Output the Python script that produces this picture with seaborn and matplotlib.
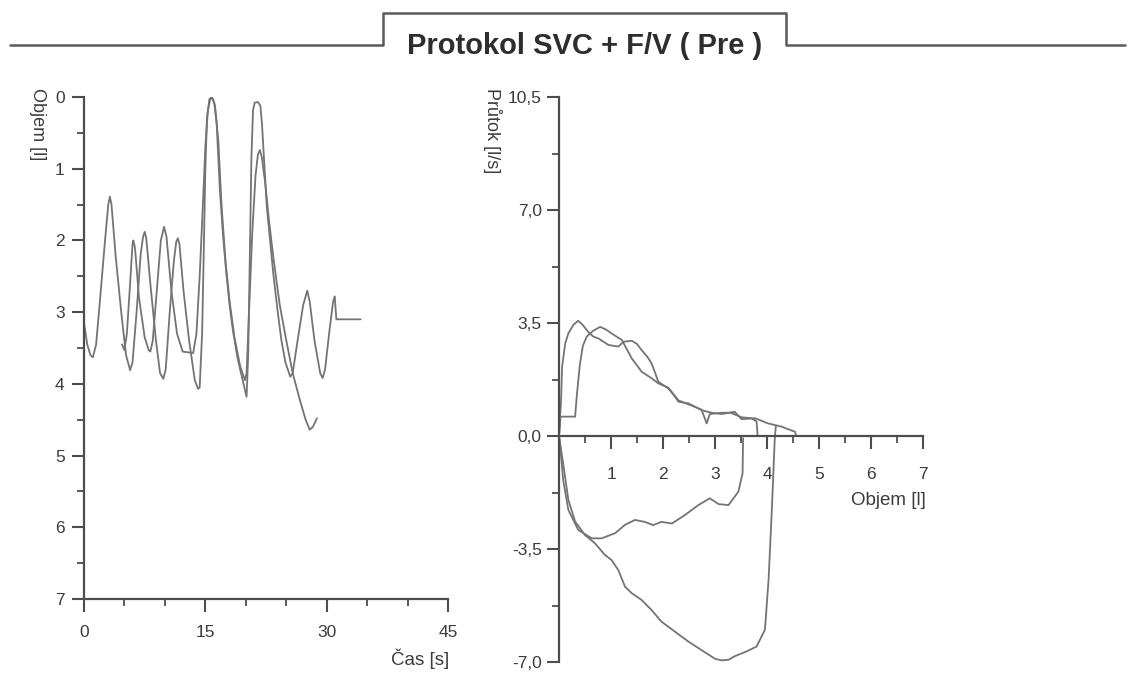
import matplotlib
matplotlib.use('Agg')
import matplotlib.pyplot as plt
import seaborn as sns
from matplotlib import font_manager
from matplotlib.lines import Line2D
from matplotlib.ticker import MultipleLocator

# --- volume-time (SVC), two trials ---
t_a = [0.0, 0.4, 0.8, 1.1, 1.5, 2.0, 2.6, 3.0, 3.2, 3.4, 3.9, 4.6, 5.2, 5.7, 6.0, 6.5, 7.0, 7.3,
       7.5, 7.7, 8.2, 8.9, 9.4, 9.8, 10.1, 10.6, 11.1, 11.4, 11.6, 11.8, 12.3, 13.0, 13.7, 14.1,
       14.3, 14.6, 14.8, 15.0, 15.2, 15.5, 15.8, 16.1, 16.4, 16.8, 17.2, 17.6, 18.0, 18.4, 19.0,
       19.7, 20.1, 20.3, 20.5, 20.7, 20.9, 21.1, 21.5, 21.8, 22.0, 22.3, 22.6, 23.0, 23.4, 23.9,
       24.4, 24.9, 25.5, 25.8, 26.4, 27.1, 27.6, 27.9, 28.5, 29.2, 29.5, 29.8, 30.3, 30.8, 31.0,
       31.1, 31.2, 34.2]
v_a = [3.15, 3.45, 3.60, 3.63, 3.45, 2.8, 2.0, 1.5, 1.39, 1.5, 2.2, 3.0, 3.6, 3.81, 3.7, 3.0, 2.2, 1.95,
       1.88, 1.97, 2.6, 3.4, 3.85, 3.93, 3.8, 3.0, 2.3, 2.02, 1.97, 2.05, 2.7, 3.4, 3.95, 4.07,
       4.05, 3.3, 2.2, 1.0, 0.3, 0.03, 0.0, 0.08, 0.37, 1.3, 1.95, 2.46, 2.9, 3.25, 3.65,
       3.99, 4.18, 3.6, 2.23, 0.83, 0.18, 0.08, 0.07, 0.12, 0.37, 0.95, 1.53, 2.0, 2.46, 2.95,
       3.39, 3.7, 3.9, 3.85, 3.4, 2.9, 2.7, 2.85, 3.4, 3.85, 3.92, 3.8, 3.3, 2.85, 2.78,
       2.95, 3.1, 3.1]

t_b = [4.7, 5.0, 5.3, 5.7, 6.0, 6.1, 6.3, 6.8, 7.5, 8.0, 8.2, 8.5, 9.0, 9.5, 9.9, 10.2, 10.8, 11.5,
       12.2, 13.5, 13.9, 14.3, 14.7, 15.0, 15.3, 15.6, 15.9, 16.2, 16.6, 17.0, 17.5, 18.0, 18.6,
       19.3, 19.9, 20.1, 20.4, 20.8, 21.2, 21.5, 21.75, 22.0, 22.4, 22.9, 23.4, 24.2, 25.0, 25.8,
       26.7, 27.4, 27.9, 28.3, 28.8]
v_b = [3.45, 3.53, 3.3, 2.6, 2.05, 2.0, 2.1, 2.8, 3.35, 3.53, 3.55, 3.4, 2.7, 2.0, 1.81, 1.95, 2.7, 3.3,
       3.55, 3.57, 3.3, 2.5, 1.5, 0.7, 0.2, 0.03, 0.02, 0.12, 0.6, 1.5, 2.3, 2.85, 3.35,
       3.75, 3.95, 3.85, 3.0, 1.9, 1.1, 0.8, 0.74, 0.85, 1.2, 1.75, 2.23, 2.9, 3.39, 3.85,
       4.23, 4.5, 4.64, 4.6, 4.48]

# --- flow-volume (F/V) ---
ex1_vol = [0.0, 0.04, 0.06, 0.12, 0.18, 0.28, 0.37, 0.45, 0.56, 0.66, 0.76, 0.95, 1.14, 1.24, 1.40,
           1.50, 1.59, 1.70, 1.78, 1.85, 1.91, 2.00, 2.10, 2.20, 2.30, 2.49, 2.60, 2.74, 2.94, 3.13,
           3.38, 3.51, 3.77, 4.02, 4.28, 4.54, 4.56]
ex1_flow = [0.0, 1.11, 2.15, 2.87, 3.18, 3.45, 3.57, 3.45, 3.23, 3.08, 3.02, 2.82, 2.77, 2.92, 2.95,
            2.85, 2.66, 2.45, 2.25, 1.95, 1.68, 1.58, 1.48, 1.28, 1.06, 1.01, 0.92, 0.80, 0.72, 0.68,
            0.75, 0.52, 0.55, 0.39, 0.29, 0.13, 0.0]

ex2_vol = [0.0, 0.03, 0.31, 0.34, 0.40, 0.46, 0.53, 0.65, 0.79, 0.90, 1.01, 1.21, 1.30, 1.40, 1.59,
           1.78, 1.91, 2.10, 2.30, 2.49, 2.74, 2.84, 2.90, 3.13, 3.30, 3.51, 3.70, 3.80, 3.82]
ex2_flow = [0.0, 0.6, 0.6, 1.2, 2.2, 2.8, 3.07, 3.25, 3.38, 3.30, 3.18, 2.97, 2.70, 2.40, 1.99,
            1.79, 1.63, 1.50, 1.10, 0.98, 0.82, 0.39, 0.68, 0.72, 0.72, 0.58, 0.55, 0.45, 0.0]

in1_vol = [0.0, 0.03, 0.08, 0.18, 0.37, 0.63, 0.82, 1.08, 1.27, 1.46, 1.65, 1.81, 1.97, 2.17, 2.42,
           2.68, 2.90, 3.07, 3.26, 3.45, 3.53, 3.54]
in1_flow = [0.0, -0.43, -1.36, -2.29, -2.91, -3.17, -3.17, -3.01, -2.75, -2.60, -2.66, -2.76, -2.66,
            -2.71, -2.45, -2.14, -1.93, -2.11, -2.14, -1.72, -1.16, -0.07]

in2_vol = [0.0, 0.08, 0.18, 0.31, 0.50, 0.69, 0.88, 1.01, 1.14, 1.27, 1.40, 1.59, 1.78, 1.97, 2.23,
           2.49, 2.74, 3.00, 3.13, 3.26, 3.38, 3.61, 3.80, 3.96, 4.03, 4.09, 4.15, 4.17]
in2_flow = [0.0, -0.85, -1.98, -2.65, -3.07, -3.32, -3.68, -3.84, -4.15, -4.67, -4.87, -5.08, -5.39,
            -5.75, -6.06, -6.37, -6.63, -6.90, -6.95, -6.93, -6.82, -6.67, -6.52, -6.00, -4.46,
            -2.40, -0.07, 0.3]

vt_yticks = [0, 1, 2, 3, 4, 5, 6, 7]
vt_xticks = [0, 15, 30, 45]
fv_yticks = [-7, -3.5, 0, 3.5, 7, 10.5]
fv_ylabels = ['-7,0', '-3,5', '0,0', '3,5', '7,0', '10,5']
fv_xticks = [1, 2, 3, 4, 5, 6, 7]

sns.set_style('white')
names = {f.name for f in font_manager.fontManager.ttflist}
narrow = 'Liberation Sans Narrow' if 'Liberation Sans Narrow' in names else 'Liberation Sans'
plt.rcParams['font.family'] = [narrow, 'DejaVu Sans']

line_c = '#747474'
axis_c = '#4d4d4d'
text_c = '#3c3c3c'

fig = plt.figure(figsize=(11.28, 6.75), dpi=100)

# title frame
fig.add_artist(Line2D([10 / 1128, 383 / 1128, 383 / 1128, 786 / 1128, 786 / 1128, 1125 / 1128],
                      [1 - 45 / 675, 1 - 45 / 675, 1 - 13 / 675, 1 - 13 / 675, 1 - 45 / 675, 1 - 45 / 675],
                      color='#5a5a5a', lw=1.8))
fig.text(585 / 1128, 1 - 46 / 675, 'Protokol SVC + F/V ( Pre )', ha='center', va='center',
         fontsize=21, fontweight='bold', color='#2e2e2e')


def style(ax):
    for s in ['top', 'right']:
        ax.spines[s].set_visible(False)
    for s in ['left', 'bottom']:
        ax.spines[s].set_color(axis_c)
        ax.spines[s].set_linewidth(1.6)
    ax.tick_params(which='both', bottom=True, left=True, top=False, right=False)
    ax.tick_params(which='major', direction='out', length=9, width=1.5, color=axis_c,
                   labelcolor=text_c, labelsize=12.5)
    ax.tick_params(which='minor', direction='out', length=5, width=1.3, color=axis_c)
    ax.grid(False)


# left: volume-time
ax1 = fig.add_axes([84 / 1128, 1 - 599 / 675, 364 / 1128, 502 / 675])
sns.lineplot(x=t_a, y=v_a, ax=ax1, sort=False, estimator=None, color=line_c, lw=1.3)
sns.lineplot(x=t_b, y=v_b, ax=ax1, sort=False, estimator=None, color=line_c, lw=1.3)
ax1.set_xlim(0, 45)
ax1.set_ylim(7, 0)
ax1.set_xticks(vt_xticks)
ax1.set_yticks(vt_yticks)
ax1.xaxis.set_minor_locator(MultipleLocator(5))
ax1.yaxis.set_minor_locator(MultipleLocator(0.5))
style(ax1)
ax1.tick_params(axis='x', which='major', pad=10)
ax1.tick_params(axis='y', which='major', pad=5)
ax1.text(-0.128, 1.018, 'Objem [l]', rotation=270, ha='center', va='top',
         transform=ax1.transAxes, fontsize=13, color=text_c)
ax1.text(0.924, -0.12, 'Čas [s]', ha='center', va='center',
         transform=ax1.transAxes, fontsize=13.5, color=text_c)

# right: flow-volume
ax2 = fig.add_axes([559 / 1128, 1 - 662 / 675, 364 / 1128, 565 / 675])
for xv, yv in [(ex1_vol, ex1_flow), (ex2_vol, ex2_flow), (in1_vol, in1_flow), (in2_vol, in2_flow)]:
    sns.lineplot(x=xv, y=yv, ax=ax2, sort=False, estimator=None, color=line_c, lw=1.3)
ax2.set_xlim(0, 7)
ax2.set_ylim(-7, 10.5)
ax2.set_xticks(fv_xticks)
ax2.set_yticks(fv_yticks)
ax2.set_yticklabels(fv_ylabels)
ax2.xaxis.set_minor_locator(MultipleLocator(0.5))
ax2.yaxis.set_minor_locator(MultipleLocator(1.75))
style(ax2)
ax2.spines['bottom'].set_position(('data', 0))
ax2.tick_params(axis='x', which='major', pad=13)
ax2.text(-0.184, 1.016, 'Průtok [l/s]', rotation=270, ha='center', va='top',
         transform=ax2.transAxes, fontsize=13, color=text_c)
ax2.text(7.05, -2.0, 'Objem [l]', ha='right', va='center', fontsize=13.5, color=text_c)

fig.savefig('out.png', dpi=100, facecolor='white')
